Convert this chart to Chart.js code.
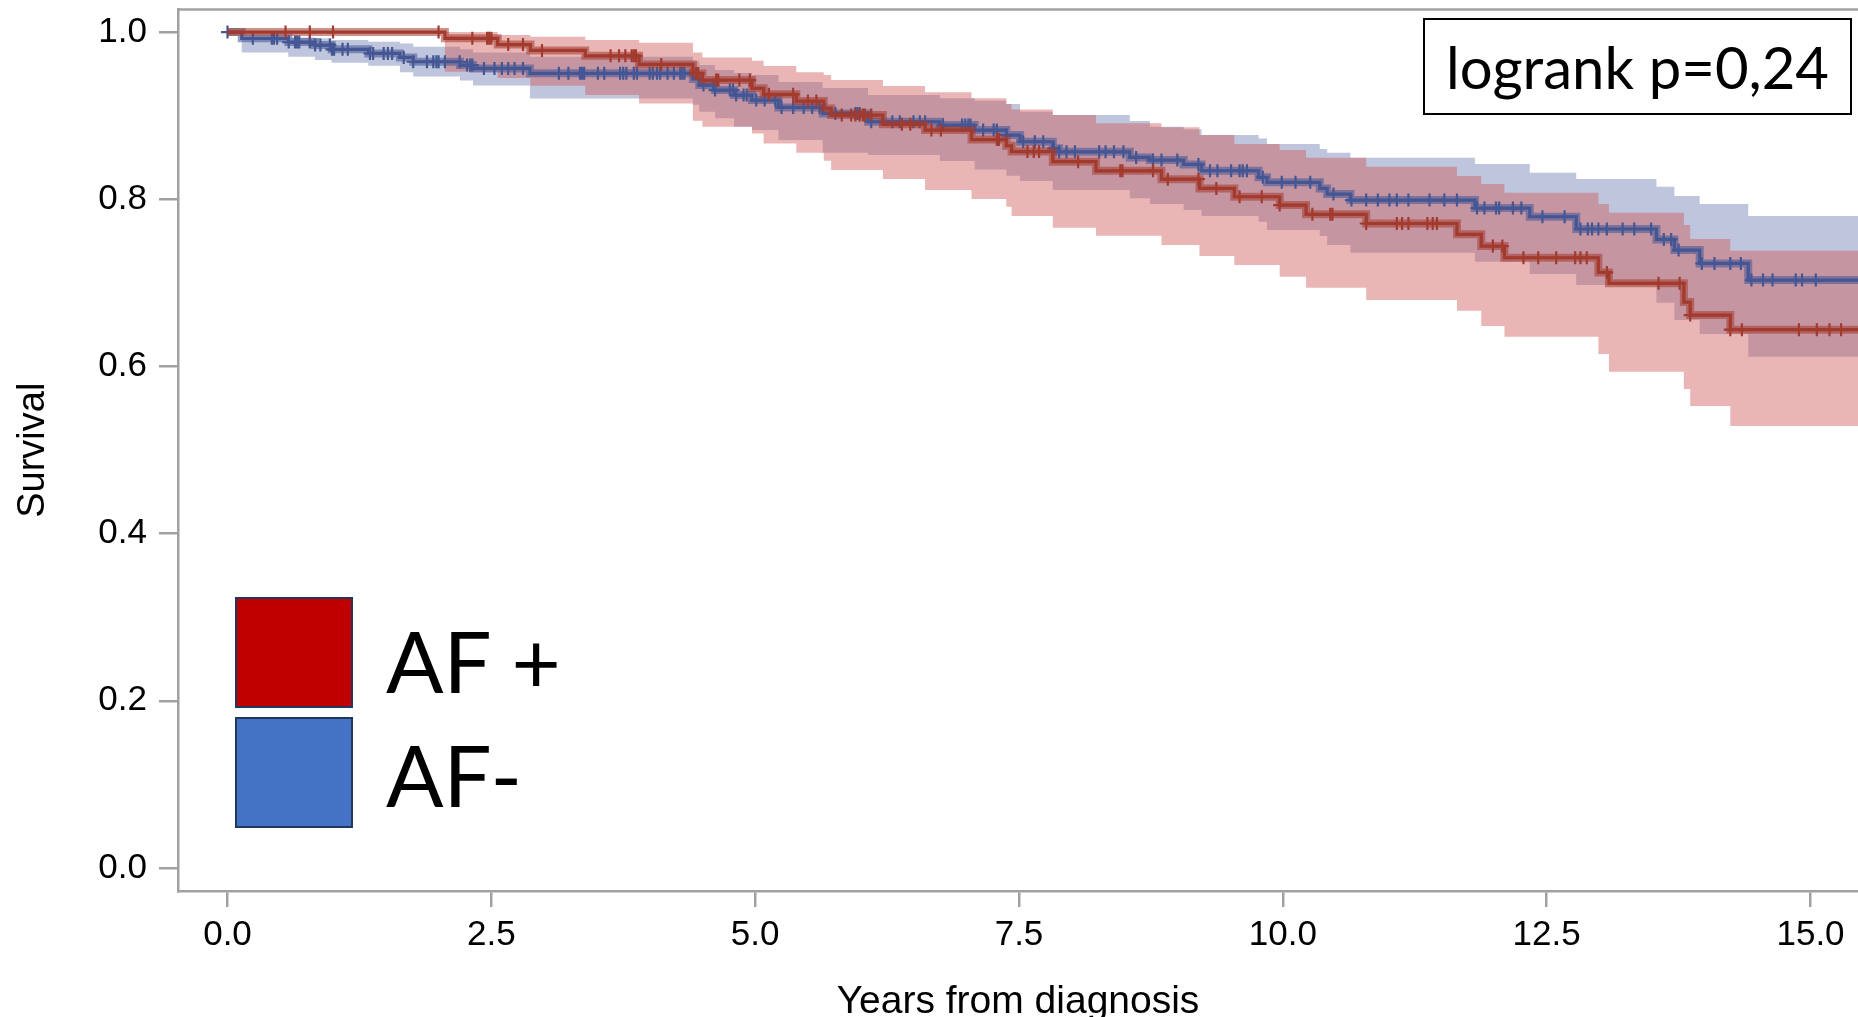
<!DOCTYPE html>
<html><head><meta charset="utf-8">
<script src="https://cdn.jsdelivr.net/npm/chart.js@4.4.1/dist/chart.umd.min.js"></script>
<style>
html,body{margin:0;padding:0;background:#fff;width:1858px;height:1017px;overflow:hidden;}
#wrap{position:relative;width:1858px;height:1017px;}
canvas{position:absolute;left:0;top:0;}
.legbox{position:absolute;left:235px;width:118px;height:111px;box-sizing:border-box;border:2.5px solid #22375E;}
.legtxt{position:absolute;left:386px;font-family:Lato,'Open Sans',sans-serif;font-size:85px;line-height:102px;color:#000;white-space:nowrap;}
#logrank{position:absolute;left:1423px;top:18px;width:429px;height:97px;box-sizing:border-box;border:2px solid #000;background:#fff;display:flex;align-items:center;justify-content:center;font-family:Lato,'Open Sans',sans-serif;font-size:58px;line-height:69.6px;color:#000;white-space:nowrap;}
</style></head>
<body>
<div id="wrap">
<canvas id="c" width="1858" height="1017"></canvas>
<div class="legbox" style="top:597px;background:#C00000"></div>
<div class="legbox" style="top:717px;background:#4472C4"></div>
<div class="legtxt" style="top:609px">AF +</div>
<div class="legtxt" style="top:723px">AF-</div>
<div id="logrank">logrank p=0,24</div>
</div>
<script>
// ---------- data ----------
const xTickValues = [0, 2.5, 5, 7.5, 10, 12.5, 15];
const xTickLabels = ['0.0', '2.5', '5.0', '7.5', '10.0', '12.5', '15.0'];
const yTickValues = [0, 0.2, 0.4, 0.6, 0.8, 1.0];
const yTickLabels = ['0.0', '0.2', '0.4', '0.6', '0.8', '1.0'];
const followUpEnd = 15.45;

// AF+ (red) Kaplan-Meier steps and 95% CI
const redTimes = [0, 2.06, 2.56, 2.87, 3.39, 3.90, 4.41, 4.50, 4.97, 5.08, 5.39, 5.65, 5.72, 6.21, 6.61, 7.05, 7.38, 7.43, 7.82, 8.23, 8.85, 9.21, 9.54, 9.97, 10.22, 10.79, 11.65, 11.88, 12.10, 12.99, 13.09, 13.80, 13.86, 14.24];
const redSurv = [1.0, 0.9925, 0.985, 0.978, 0.9716, 0.9613, 0.9505, 0.9426, 0.9327, 0.9255, 0.9175, 0.9087, 0.9007, 0.8896, 0.8828, 0.8714, 0.864, 0.857, 0.845, 0.834, 0.824, 0.813, 0.803, 0.793, 0.782, 0.771, 0.758, 0.744, 0.730, 0.7125, 0.6994, 0.677, 0.6615, 0.644];
const redUpper = [1.0, 1.0, 0.9964, 0.9944, 0.9904, 0.9872, 0.9757, 0.9697, 0.9657, 0.9593, 0.9518, 0.9486, 0.9426, 0.9354, 0.9279, 0.9207, 0.9139, 0.9075, 0.9007, 0.8908, 0.8860, 0.8768, 0.8660, 0.8589, 0.8496, 0.8389, 0.8278, 0.8182, 0.8078, 0.7943, 0.7838, 0.7691, 0.7524, 0.7384];
const redLower = [1.0, 0.9525, 0.945, 0.9358, 0.9246, 0.9147, 0.8939, 0.8867, 0.8788, 0.8668, 0.8556, 0.8461, 0.8349, 0.8242, 0.8110, 0.8002, 0.7910, 0.7799, 0.7659, 0.7563, 0.7452, 0.7321, 0.7213, 0.7073, 0.6941, 0.6794, 0.6666, 0.6483, 0.6355, 0.6148, 0.5937, 0.5730, 0.5526, 0.5287];
const redCensor = [0.55, 0.78, 1.00, 2.00, 2.32, 2.46, 2.48, 2.50, 2.66, 2.80, 2.98, 3.63, 3.71, 3.77, 3.83, 3.85, 3.87, 4.11, 4.44, 4.46, 4.63, 4.65, 4.85, 4.95, 5.13, 5.36, 5.50, 5.58, 5.82, 5.91, 5.95, 5.99, 6.02, 6.04, 6.10, 6.39, 6.47, 6.67, 6.76, 7.29, 7.31, 7.58, 7.64, 7.69, 8.06, 8.46, 8.48, 8.77, 8.91, 9.20, 9.37, 9.59, 9.80, 9.97, 10.28, 10.45, 10.47, 10.79, 11.08, 11.13, 11.19, 11.37, 11.42, 11.46, 11.99, 12.08, 12.28, 12.42, 12.59, 12.77, 12.82, 12.88, 13.07, 13.56, 13.76, 13.86, 14.24, 14.35, 14.89, 15.06, 15.18, 15.29];

// AF- (blue) Kaplan-Meier steps and 95% CI
const blueTimes = [0, 0.135, 0.576, 0.829, 0.987, 1.334, 1.634, 1.760, 2.203, 2.326, 2.866, 4.41, 4.47, 4.62, 4.80, 4.97, 5.22, 5.64, 6.07, 6.75, 7.08, 7.38, 7.51, 7.82, 7.88, 8.55, 8.74, 9.06, 9.23, 9.77, 9.85, 10.35, 10.42, 10.64, 11.82, 12.34, 12.78, 13.54, 13.71, 13.95, 14.41];
const blueSurv = [1.0, 0.9925, 0.988, 0.9845, 0.9793, 0.9745, 0.9697, 0.9645, 0.9605, 0.9565, 0.9506, 0.944, 0.9366, 0.9306, 0.9246, 0.9187, 0.9099, 0.9027, 0.8927, 0.8888, 0.8828, 0.8768, 0.8688, 0.8609, 0.8568, 0.8501, 0.8469, 0.8417, 0.8341, 0.8262, 0.8202, 0.8130, 0.8062, 0.7990, 0.7895, 0.7791, 0.7644, 0.7520, 0.7392, 0.7233, 0.7033];
const blueUpper = [1.0, 0.9944, 0.9935, 0.9925, 0.9904, 0.9884, 0.9864, 0.9824, 0.9793, 0.9757, 0.9705, 0.9650, 0.9605, 0.9545, 0.9510, 0.9486, 0.9402, 0.9330, 0.9246, 0.9207, 0.9178, 0.9139, 0.9047, 0.9007, 0.9007, 0.8935, 0.8867, 0.8836, 0.8768, 0.8728, 0.8660, 0.8600, 0.8556, 0.8496, 0.8421, 0.8317, 0.8242, 0.8150, 0.8038, 0.7943, 0.7799];
const blueLower = [1.0, 0.9757, 0.9705, 0.9665, 0.9633, 0.9597, 0.9520, 0.9470, 0.9420, 0.9360, 0.9205, 0.9130, 0.9047, 0.8968, 0.8867, 0.8828, 0.8708, 0.8556, 0.8529, 0.8457, 0.8357, 0.8281, 0.8218, 0.8110, 0.8110, 0.8011, 0.7943, 0.7871, 0.7799, 0.7731, 0.7632, 0.7560, 0.7452, 0.7360, 0.7252, 0.7105, 0.6974, 0.6761, 0.6555, 0.6388, 0.6116];
const blueCensor = [0, 0.24, 0.42, 0.44, 0.47, 0.58, 0.64, 0.66, 0.68, 0.78, 0.83, 0.88, 0.97, 0.99, 1.01, 1.09, 1.14, 1.35, 1.38, 1.48, 1.52, 1.56, 1.67, 1.76, 1.89, 1.95, 1.98, 2.0, 2.06, 2.20, 2.27, 2.30, 2.32, 2.43, 2.53, 2.60, 2.66, 2.72, 2.80, 3.14, 3.23, 3.34, 3.36, 3.38, 3.51, 3.57, 3.72, 3.75, 3.78, 3.85, 3.88, 4.0, 4.03, 4.07, 4.10, 4.17, 4.23, 4.29, 4.31, 4.33, 4.51, 4.60, 4.62, 4.76, 4.79, 4.82, 4.89, 4.92, 5.01, 5.09, 5.19, 5.25, 5.36, 5.46, 5.54, 5.61, 5.76, 5.95, 5.97, 5.99, 6.10, 6.30, 6.37, 6.50, 6.56, 6.61, 6.78, 6.96, 6.99, 7.02, 7.04, 7.16, 7.26, 7.29, 7.38, 7.54, 7.65, 7.73, 7.83, 7.88, 7.95, 8.03, 8.26, 8.32, 8.40, 8.49, 8.61, 8.77, 8.85, 9.0, 9.20, 9.31, 9.38, 9.51, 9.59, 9.62, 9.66, 9.81, 9.99, 10.12, 10.26, 10.48, 10.65, 10.79, 10.90, 11.01, 11.08, 11.19, 11.39, 11.53, 11.65, 11.84, 11.91, 12.02, 12.05, 12.18, 12.26, 12.46, 12.67, 12.82, 12.89, 12.93, 12.99, 13.07, 13.22, 13.33, 13.49, 13.61, 13.68, 13.75, 13.97, 14.09, 14.24, 14.34, 14.44, 14.55, 14.64, 14.86, 14.92, 15.05];

// ---------- build ----------
const RED = '#A23A2E', BLUE = '#445694';
function stepPoints(times, vals) {
  const pts = times.map((t, i) => ({x: t, y: vals[i]}));
  pts.push({x: followUpEnd, y: vals[vals.length - 1]});
  return pts;
}
function survAt(times, vals, t) {
  let v = vals[0];
  for (let i = 0; i < times.length; i++) { if (times[i] <= t + 1e-9) v = vals[i]; }
  return v;
}
function censorPoints(cens, times, vals) { return cens.map(t => ({x: t, y: survAt(times, vals, t)})); }

Chart.defaults.font.family = "'Liberation Sans', Arial, sans-serif";

const lineBase = {showLine: true, stepped: 'before', pointRadius: 0, pointHoverRadius: 0, fill: false};
const datasets = [
  Object.assign({}, lineBase, {label: 'blueUpper', data: stepPoints(blueTimes, blueUpper), borderWidth: 0, borderColor: 'rgba(0,0,0,0)', fill: '+1', backgroundColor: 'rgba(111,126,179,0.45)', order: 20}),
  Object.assign({}, lineBase, {label: 'blueLower', data: stepPoints(blueTimes, blueLower), borderWidth: 0, borderColor: 'rgba(0,0,0,0)', order: 19}),
  Object.assign({}, lineBase, {label: 'redUpper', data: stepPoints(redTimes, redUpper), borderWidth: 0, borderColor: 'rgba(0,0,0,0)', fill: '+1', backgroundColor: 'rgba(208,91,91,0.45)', order: 18}),
  Object.assign({}, lineBase, {label: 'redLower', data: stepPoints(redTimes, redLower), borderWidth: 0, borderColor: 'rgba(0,0,0,0)', order: 17}),
  Object.assign({}, lineBase, {label: 'blueHalo', data: stepPoints(blueTimes, blueSurv), borderWidth: 8, borderColor: 'rgba(68,86,148,0.55)', order: 12}),
  Object.assign({}, lineBase, {label: 'AF-', data: stepPoints(blueTimes, blueSurv), borderWidth: 3.2, borderColor: BLUE, order: 11}),
  {label: 'blueCensor', data: censorPoints(blueCensor, blueTimes, blueSurv), showLine: false, pointStyle: 'cross', pointRadius: 6.5, pointHoverRadius: 6.5, pointBorderWidth: 2.2, borderWidth: 2.2, borderColor: BLUE, backgroundColor: BLUE, pointBorderColor: BLUE, order: 10},
  Object.assign({}, lineBase, {label: 'redHalo', data: stepPoints(redTimes, redSurv), borderWidth: 8, borderColor: 'rgba(162,58,46,0.55)', order: 5}),
  Object.assign({}, lineBase, {label: 'AF +', data: stepPoints(redTimes, redSurv), borderWidth: 3.2, borderColor: RED, order: 4}),
  {label: 'redCensor', data: censorPoints(redCensor, redTimes, redSurv), showLine: false, pointStyle: 'cross', pointRadius: 6.5, pointHoverRadius: 6.5, pointBorderWidth: 2.2, borderWidth: 2.2, borderColor: RED, backgroundColor: RED, pointBorderColor: RED, order: 3}
];

const AXIS_GREY = '#A0A1A3';
const topFrame = {
  id: 'topFrame',
  afterDraw(chart) {
    const {ctx, chartArea: a} = chart;
    ctx.save();
    ctx.strokeStyle = AXIS_GREY; ctx.lineWidth = 2.5;
    ctx.beginPath(); ctx.moveTo(a.left, a.top); ctx.lineTo(a.right, a.top); ctx.stroke();
    ctx.restore();
  }
};

new Chart(document.getElementById('c').getContext('2d'), {
  type: 'scatter',
  data: {datasets},
  plugins: [topFrame],
  options: {
    responsive: false, animation: false, devicePixelRatio: 1,
    layout: {autoPadding: false, padding: {top: 9.5, left: 0, right: 0, bottom: 0}},
    plugins: {legend: {display: false}, tooltip: {enabled: false}},
    scales: {
      x: {
        type: 'linear', min: -0.469, max: followUpEnd,
        afterBuildTicks: s => { s.ticks = xTickValues.map(v => ({value: v})); },
        afterFit: s => { s.height = 126; s.paddingLeft = 0; s.paddingRight = 0; },
        ticks: {callback: v => xTickLabels[xTickValues.indexOf(v)], font: {size: 35}, color: '#000', padding: 7, maxRotation: 0, autoSkip: false},
        grid: {display: true, drawOnChartArea: false, drawTicks: true, tickLength: 16, color: AXIS_GREY, lineWidth: 2.5},
        border: {display: true, color: AXIS_GREY, width: 2.5},
        title: {display: true, text: 'Years from diagnosis', font: {size: 39, lineHeight: 0.75}, color: '#000', padding: {top: 0, bottom: 0}}
      },
      y: {
        type: 'linear', min: -0.0275, max: 1.027,
        afterBuildTicks: s => { s.ticks = yTickValues.map(v => ({value: v})); },
        afterFit: s => { s.width = 178; s.paddingTop = 0; s.paddingBottom = 0; },
        ticks: {callback: v => yTickLabels[yTickValues.findIndex(t => Math.abs(t - v) < 1e-9)], font: {size: 35}, color: '#000', padding: 12},
        grid: {display: true, drawOnChartArea: false, drawTicks: true, tickLength: 19, color: AXIS_GREY, lineWidth: 2.5},
        border: {display: true, color: AXIS_GREY, width: 2.5},
        title: {display: true, text: 'Survival', font: {size: 38}, color: '#000', padding: {top: 11, bottom: 0}}
      }
    }
  }
});
</script>
</body></html>
